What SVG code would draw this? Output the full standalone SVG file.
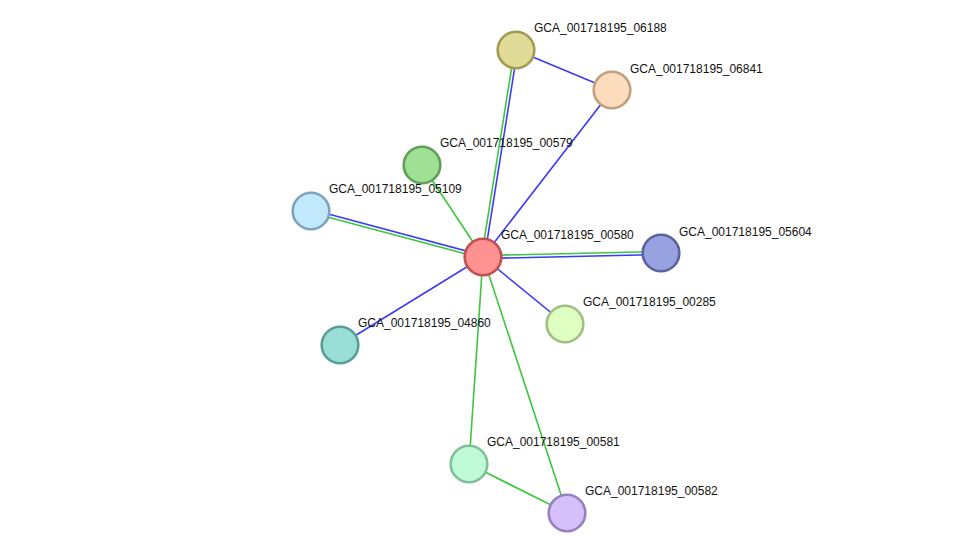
<svg xmlns="http://www.w3.org/2000/svg" width="976" height="558" viewBox="0 0 976 558">
<style>
.e{stroke-width:1.6;fill:none}
.b{stroke:#3b3bf5}
.g{stroke:#3dc63d}
.n circle{stroke-width:2.6}
.n text{font-family:"Liberation Sans",Arial,sans-serif;font-size:12px;fill:#111}
</style>
<rect width="976" height="558" fill="#fff"/>
<g id="edges">
<line class="e b" x1="516" y1="50" x2="612" y2="90"/>
<line class="e b" x1="612" y1="90" x2="483" y2="257"/>
<line class="e g" x1="481.5" y1="256.8" x2="514.5" y2="49.8"/>
<line class="e b" x1="484.5" y1="257.2" x2="517.5" y2="50.2"/>
<line class="e g" x1="422" y1="165" x2="483" y2="257"/>
<line class="e b" x1="311.4" y1="209.6" x2="483.4" y2="255.6"/>
<line class="e g" x1="310.6" y1="212.4" x2="482.6" y2="258.4"/>
<line class="e g" x1="483" y1="255.5" x2="661" y2="251.5"/>
<line class="e b" x1="483" y1="258.5" x2="661" y2="254.5"/>
<line class="e b" x1="483" y1="257" x2="565" y2="324"/>
<line class="e b" x1="483" y1="257" x2="340" y2="345"/>
<line class="e g" x1="483" y1="257" x2="469" y2="464"/>
<line class="e g" x1="483" y1="257" x2="567" y2="513"/>
<line class="e g" x1="469" y1="464" x2="567" y2="513"/>
</g>
<g id="n06188" class="n" transform="translate(516,50)"><circle r="18.3" fill="#e0dc98" stroke="#9f9b52"/><text x="18" y="-18">GCA_001718195_06188</text></g>
<g id="n06841" class="n" transform="translate(612,90)"><circle r="18.3" fill="#fddcbe" stroke="#bf9f80"/><text x="18" y="-17">GCA_001718195_06841</text></g>
<g id="n00579" class="n" transform="translate(422,165)"><circle r="18.3" fill="#a0e094" stroke="#609f58"/><text x="18" y="-18">GCA_001718195_00579</text></g>
<g id="n05109" class="n" transform="translate(311,211)"><circle r="18.3" fill="#c2e8fd" stroke="#7ea3bd"/><text x="18" y="-18">GCA_001718195_05109</text></g>
<g id="n00580" class="n" transform="translate(483,257)"><circle r="18.3" fill="#ff9191" stroke="#c05050"/><text x="18" y="-18">GCA_001718195_00580</text></g>
<g id="n05604" class="n" transform="translate(661,253)"><circle r="18.3" fill="#98a2e0" stroke="#5a629f"/><text x="18" y="-17">GCA_001718195_05604</text></g>
<g id="n00285" class="n" transform="translate(565,324)"><circle r="18.3" fill="#e0ffc2" stroke="#a0bf82"/><text x="18" y="-18">GCA_001718195_00285</text></g>
<g id="n04860" class="n" transform="translate(340,345)"><circle r="18.3" fill="#9adfd6" stroke="#5a9f96"/><text x="18" y="-18">GCA_001718195_04860</text></g>
<g id="n00581" class="n" transform="translate(469,464)"><circle r="18.3" fill="#c0fbd8" stroke="#80bf98"/><text x="18" y="-18">GCA_001718195_00581</text></g>
<g id="n00582" class="n" transform="translate(567,513)"><circle r="18.3" fill="#d6c0fb" stroke="#9680bf"/><text x="18" y="-18">GCA_001718195_00582</text></g>
</svg>
